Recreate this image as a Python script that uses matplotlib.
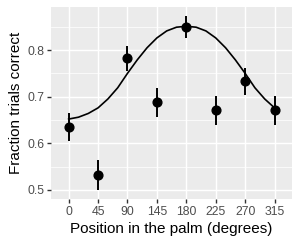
import matplotlib
matplotlib.use("Agg")
import matplotlib.pyplot as plt

plt.rcParams['font.family'] = ['Liberation Sans', 'DejaVu Sans']

# data
positions = [0, 45, 90, 135, 180, 225, 270, 315]
tick_labels = ["0", "45", "90", "145", "180", "225", "270", "315"]
fraction = [0.635, 0.532, 0.782, 0.688, 0.849, 0.671, 0.734, 0.671]
err_low = [0.604, 0.500, 0.754, 0.657, 0.825, 0.639, 0.704, 0.639]
err_high = [0.666, 0.564, 0.809, 0.719, 0.873, 0.702, 0.762, 0.702]

curve_x = [0, 15, 30, 45, 60, 75, 90, 105, 120, 135, 150, 165, 180,
           195, 210, 225, 240, 255, 270, 285, 300, 315]
curve_y = [0.652, 0.656, 0.664, 0.676, 0.695, 0.719, 0.750, 0.779, 0.805,
           0.826, 0.841, 0.849, 0.851, 0.849, 0.841, 0.826, 0.805, 0.779,
           0.750, 0.719, 0.695, 0.676]

y_ticks = [0.5, 0.6, 0.7, 0.8]
y_tick_labels = ["0.5", "0.6", "0.7", "0.8"]
y_minor = [0.55, 0.65, 0.75, 0.85]

fig = plt.figure(figsize=(3.0, 2.46), dpi=100)
ax = fig.add_axes([0.17, 0.19, 0.804, 0.780])
ax.set_facecolor('#EBEBEB')
for s in ax.spines.values():
    s.set_visible(False)

ax.set_xlim(-27, 342)
ax.set_ylim(0.480, 0.8915)
ax.set_xticks(positions)
ax.set_xticklabels(tick_labels)
ax.set_yticks(y_ticks)
ax.set_yticklabels(y_tick_labels)
ax.set_yticks(y_minor, minor=True)

ax.grid(which='major', color='white', linewidth=1.07)
ax.grid(which='minor', axis='y', color='white', linewidth=0.53)
ax.set_axisbelow(True)

ax.tick_params(which='major', length=2.75, width=1.0, color='#333333',
               labelcolor='#4D4D4D', labelsize=8.8, pad=2.2)
ax.tick_params(which='minor', length=0)

ax.plot(curve_x, curve_y, color='black', linewidth=1.2, zorder=3)
ax.vlines(positions, err_low, err_high, color='black', linewidth=1.4, zorder=4)
ax.plot(positions, fraction, 'o', color='black', markersize=6.3, zorder=5)

ax.set_xlabel("Position in the palm (degrees)", fontsize=11, labelpad=2.75)
ax.set_ylabel("Fraction trials correct", fontsize=11, labelpad=2.75)

fig.savefig("out.png", dpi=100)
